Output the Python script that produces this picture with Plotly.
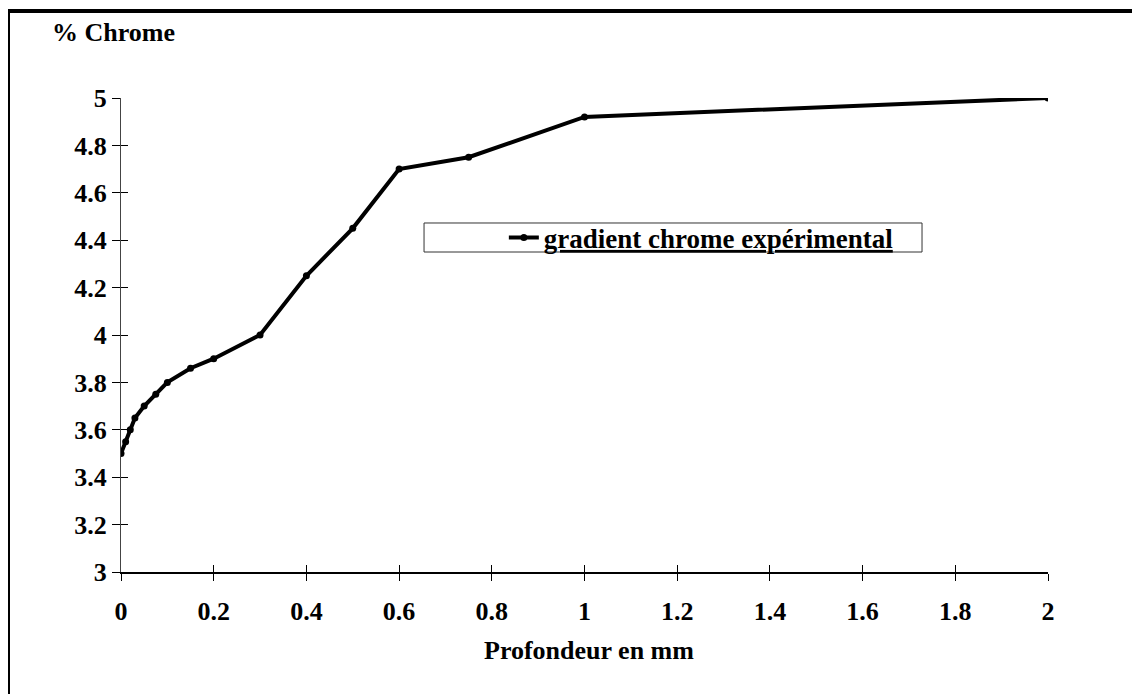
import plotly.graph_objects as go

# Data
profondeur_mm = [0, 0.01, 0.02, 0.03, 0.05, 0.075, 0.1, 0.15, 0.2, 0.3, 0.4, 0.5, 0.6, 0.75, 1.0, 2.0]
chrome_pct = [3.5, 3.55, 3.6, 3.65, 3.7, 3.75, 3.8, 3.86, 3.9, 4.0, 4.25, 4.45, 4.7, 4.75, 4.92, 5.0]

x_ticks = [0, 0.2, 0.4, 0.6, 0.8, 1.0, 1.2, 1.4, 1.6, 1.8, 2.0]
x_tick_labels = ["0", "0.2", "0.4", "0.6", "0.8", "1", "1.2", "1.4", "1.6", "1.8", "2"]
y_ticks = [3, 3.2, 3.4, 3.6, 3.8, 4, 4.2, 4.4, 4.6, 4.8, 5]
y_tick_labels = ["3", "3.2", "3.4", "3.6", "3.8", "4", "4.2", "4.4", "4.6", "4.8", "5"]

series_name = "gradient chrome expérimental"
y_title = "% Chrome"
x_title = "Profondeur en mm"

FONT = "Liberation Serif"
FS = 26

fig = go.Figure()
fig.add_trace(go.Scatter(
    x=profondeur_mm, y=chrome_pct, mode="lines+markers",
    name="<u>" + series_name + "</u>",
    line=dict(color="black", width=4),
    marker=dict(color="black", size=7, symbol="circle"),
))
# empty trace so the overlaying axes (inside ticks) are drawn
fig.add_trace(go.Scatter(x=[], y=[], xaxis="x2", yaxis="y2", showlegend=False, hoverinfo="skip"))

tickfont = dict(family=FONT, size=FS, color="black", weight="bold")

fig.update_layout(
    width=1140, height=694,
    margin=dict(l=113, r=100, t=90, b=130),
    paper_bgcolor="white", plot_bgcolor="white",
    font=dict(family=FONT),
    showlegend=True,
    legend=dict(
        x=0.413, y=0.705, xanchor="left", yanchor="middle",
        bgcolor="rgba(0,0,0,0)", borderwidth=0,
        font=dict(family=FONT, size=27, color="black", weight="bold"),
    ),
    xaxis=dict(
        range=[0, 2], tickvals=x_ticks, ticktext=x_tick_labels,
        showgrid=False, zeroline=False,
        showline=True, linecolor="black", linewidth=2,
        ticks="outside", ticklen=7, tickwidth=1, tickcolor="black",
        tickfont=tickfont, ticklabelstandoff=8,
    ),
    yaxis=dict(
        range=[3, 5], tickvals=y_ticks, ticktext=y_tick_labels,
        showgrid=False, zeroline=False,
        showline=True, linecolor="#444", linewidth=1,
        ticks="outside", ticklen=8, tickwidth=1, tickcolor="black",
        tickfont=tickfont,
    ),
    xaxis2=dict(
        overlaying="x", anchor="y2", range=[0, 2], tickvals=x_ticks,
        showticklabels=False, showgrid=False, zeroline=False, showline=False,
        ticks="inside", ticklen=7, tickwidth=1, tickcolor="black",
    ),
    yaxis2=dict(
        overlaying="y", anchor="x2", range=[3, 5], tickvals=y_ticks,
        showticklabels=False, showgrid=False, zeroline=False, showline=False,
        ticks="inside", ticklen=7, tickwidth=1, tickcolor="black",
    ),
    annotations=[
        dict(text="<b>" + y_title + "</b>", xref="paper", yref="paper",
             x=-0.0766, y=1.139, xanchor="left", yanchor="middle", showarrow=False,
             font=dict(family=FONT, size=FS, color="black")),
        dict(text="<b>" + x_title + "</b>", xref="paper", yref="paper",
             x=0.505, y=-0.165, xanchor="center", yanchor="middle", showarrow=False,
             font=dict(family=FONT, size=FS, color="black")),
    ],
    shapes=[
        # outer frame
        dict(type="rect", xref="paper", yref="paper",
             x0=-0.1219, y0=-0.4, x1=1.3, y1=1.1835,
             line=dict(color="black", width=4)),
        # legend box
        dict(type="rect", xref="paper", yref="paper",
             x0=0.3269, y0=0.6751, x1=0.8641, y1=0.7363,
             line=dict(color="#333", width=1)),
    ],
)

fig.write_html("out.html")
